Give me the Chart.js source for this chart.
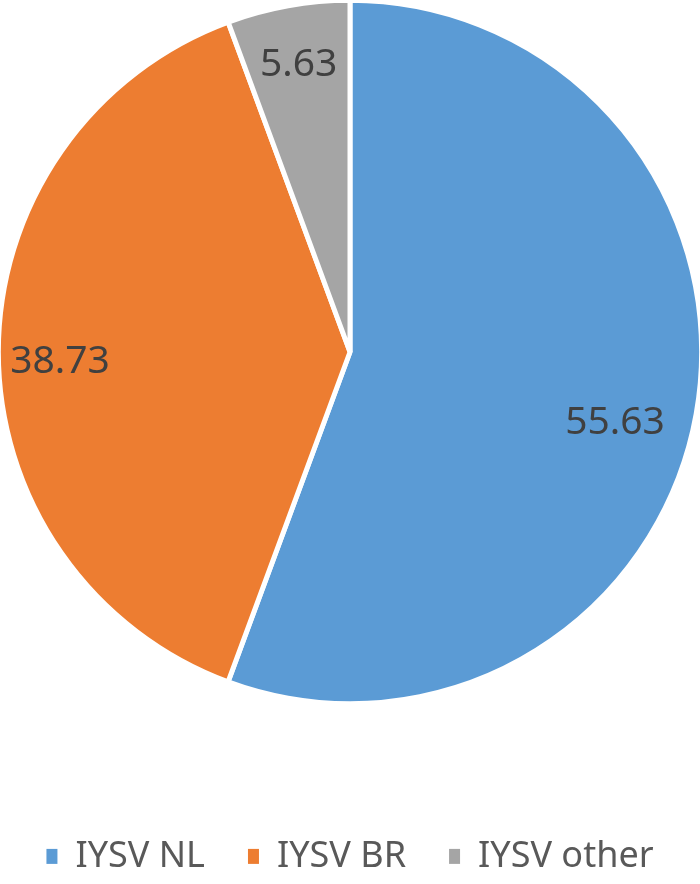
<!DOCTYPE html>
<html>
<head>
<meta charset="utf-8">
<script src="https://cdn.jsdelivr.net/npm/chart.js@4.4.0/dist/chart.umd.min.js"></script>
<style>
  html, body { margin: 0; padding: 0; background: #ffffff; }
  #wrap { width: 700px; height: 884px; }
</style>
</head>
<body>
<div id="wrap"><canvas id="pieChart" width="700" height="884"></canvas></div>
<script>
// ---------------------- DATOS ----------------------
const categorias = ["IYSV NL", "IYSV BR", "IYSV other"];
const valores = [55.63, 38.73, 5.63];
const colores = ["#5b9bd5", "#ed7d31", "#a5a5a5"];

// where each value label sits inside its slice (fraction of radius, angle shift in degrees)
const labelRadio = [0.78, 0.825, 0.83];
const labelGiro = [4.8, -2, 0];

const LEGEND_H = 180;

// ---- etiquetas de valor sobre cada porción ----
const valueLabels = {
  id: "valueLabels",
  afterDatasetsDraw(chart) {
    const ctx = chart.ctx;
    const meta = chart.getDatasetMeta(0);
    ctx.save();
    ctx.font = "39px 'Noto Sans'";
    ctx.fillStyle = "#404040";
    ctx.textAlign = "center";
    ctx.textBaseline = "middle";
    meta.data.forEach((arc, i) => {
      const p = arc.getProps(["x", "y", "startAngle", "endAngle", "outerRadius"], true);
      const mid = (p.startAngle + p.endAngle) / 2 + (labelGiro[i] * Math.PI) / 180;
      const r = p.outerRadius * labelRadio[i];
      ctx.fillText(valores[i].toFixed(2), p.x + Math.cos(mid) * r, p.y + Math.sin(mid) * r);
    });
    ctx.restore();
  },
};

// ---- alto fijo para la leyenda ----
const legendHeight = {
  id: "legendHeight",
  afterInit(chart) {
    const legend = chart.legend;
    const fit = legend.fit;
    legend.fit = function () {
      fit.call(this);
      this.height = LEGEND_H;
    };
  },
};

const baseLabels = Chart.overrides.pie.plugins.legend.labels.generateLabels;

new Chart(document.getElementById("pieChart"), {
  type: "pie",
  data: {
    labels: categorias,
    datasets: [
      {
        data: valores,
        backgroundColor: colores,
        borderColor: "#ffffff",
        borderWidth: 5,
      },
    ],
  },
  options: {
    responsive: false,
    animation: false,
    radius: "101.2%",
    layout: { padding: 0 },
    plugins: {
      tooltip: { enabled: false },
      legend: {
        position: "bottom",
        title: {
          display: true,
          text: " ",
          font: { size: 12 },
          padding: { top: 77, bottom: 0 },
        },
        labels: {
          boxWidth: 11,
          boxHeight: 15,
          padding: 43,
          color: "#595959",
          font: { family: "'Noto Sans'", size: 36 },
          generateLabels: (chart) =>
            baseLabels(chart).map((item) => ({ ...item, lineWidth: 0 })),
        },
      },
    },
  },
  plugins: [valueLabels, legendHeight],
});
</script>
</body>
</html>
